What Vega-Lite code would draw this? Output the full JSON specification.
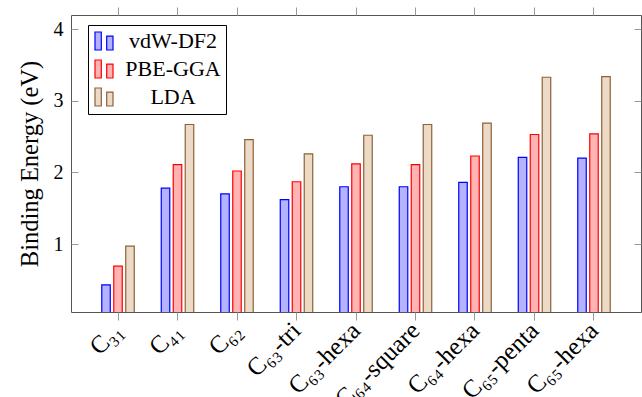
{
  "$schema": "https://vega.github.io/schema/vega-lite/v6.json",
  "autosize": "none",
  "width": 570,
  "height": 297,
  "padding": {"left": 71, "top": 15, "right": 1, "bottom": 85},
  "background": "white",
  "config": {
    "view": {"stroke": "#555", "strokeWidth": 1},
    "axis": {"labelFont": "Liberation Serif", "titleFont": "Liberation Serif", "labelColor": "black", "titleColor": "black", "titleFontWeight": "normal", "grid": false, "domain": false, "tickColor": "#999", "tickWidth": 1},
    "legend": {"labelFont": "Liberation Serif", "titleFont": "Liberation Serif"}
  },
  "data": {"values": [
    {"s": "C₃₁", "m": "vdW-DF2", "e": 0.43}, {"s": "C₃₁", "m": "PBE-GGA", "e": 0.69}, {"s": "C₃₁", "m": "LDA", "e": 0.97},
    {"s": "C₄₁", "m": "vdW-DF2", "e": 1.78}, {"s": "C₄₁", "m": "PBE-GGA", "e": 2.11}, {"s": "C₄₁", "m": "LDA", "e": 2.67},
    {"s": "C₆₂", "m": "vdW-DF2", "e": 1.70}, {"s": "C₆₂", "m": "PBE-GGA", "e": 2.02}, {"s": "C₆₂", "m": "LDA", "e": 2.46},
    {"s": "C₆₃-tri", "m": "vdW-DF2", "e": 1.62}, {"s": "C₆₃-tri", "m": "PBE-GGA", "e": 1.87}, {"s": "C₆₃-tri", "m": "LDA", "e": 2.26},
    {"s": "C₆₃-hexa", "m": "vdW-DF2", "e": 1.80}, {"s": "C₆₃-hexa", "m": "PBE-GGA", "e": 2.12}, {"s": "C₆₃-hexa", "m": "LDA", "e": 2.52},
    {"s": "C₆₄-square", "m": "vdW-DF2", "e": 1.80}, {"s": "C₆₄-square", "m": "PBE-GGA", "e": 2.11}, {"s": "C₆₄-square", "m": "LDA", "e": 2.67},
    {"s": "C₆₄-hexa", "m": "vdW-DF2", "e": 1.86}, {"s": "C₆₄-hexa", "m": "PBE-GGA", "e": 2.23}, {"s": "C₆₄-hexa", "m": "LDA", "e": 2.69},
    {"s": "C₆₅-penta", "m": "vdW-DF2", "e": 2.21}, {"s": "C₆₅-penta", "m": "PBE-GGA", "e": 2.53}, {"s": "C₆₅-penta", "m": "LDA", "e": 3.33},
    {"s": "C₆₅-hexa", "m": "vdW-DF2", "e": 2.20}, {"s": "C₆₅-hexa", "m": "PBE-GGA", "e": 2.54}, {"s": "C₆₅-hexa", "m": "LDA", "e": 3.34}
  ]},
  "resolve": {"axis": {"x": "independent", "y": "independent"}},
  "layer": [
    {
      "mark": {"type": "bar", "strokeWidth": 1.2, "clip": true},
      "encoding": {
        "x": {"field": "s", "type": "nominal", "sort": null,
              "scale": {"paddingInner": 0.454, "paddingOuter": 0.517},
              "axis": {"orient": "bottom", "title": null, "labelAngle": -45, "labelAlign": "right", "labelBaseline": "middle", "labelFontSize": 25, "labelPadding": 6, "tickSize": 8}},
        "xOffset": {"field": "m", "type": "nominal", "sort": ["vdW-DF2", "PBE-GGA", "LDA"],
              "scale": {"domain": ["vdW-DF2", "PBE-GGA", "LDA"], "paddingInner": 0.29, "paddingOuter": 0}},
        "y": {"field": "e", "type": "quantitative",
              "scale": {"domain": [0.05, 4.2], "nice": false, "zero": false},
              "axis": {"orient": "left", "title": "Binding Energy (eV)", "titleFontSize": 24.5, "labelFontSize": 20, "values": [1, 2, 3, 4], "tickSize": -7, "labelPadding": 15, "titlePadding": 11}},
        "fill": {"field": "m", "type": "nominal",
              "scale": {"domain": ["vdW-DF2", "PBE-GGA", "LDA"], "range": ["#b3b3ff", "#ffb3b3", "#ecd9c6"]},
              "legend": {"title": null, "orient": "none", "legendX": 17, "legendY": 10, "symbolType": "M-1,-1H-0.3V1H-1Z M0.3,-0.55H1V1H0.3Z", "symbolSize": 324, "symbolStrokeWidth": 1.2, "labelFontSize": 22, "labelAlign": "center", "labelOffset": 58, "rowPadding": 4, "padding": 5, "strokeColor": "black", "fillColor": "white"}},
        "stroke": {"field": "m", "type": "nominal",
              "scale": {"domain": ["vdW-DF2", "PBE-GGA", "LDA"], "range": ["#0000ff", "#ff0000", "#8c6239"]},
              "legend": {"title": null, "orient": "none", "legendX": 17, "legendY": 10, "symbolType": "M-1,-1H-0.3V1H-1Z M0.3,-0.55H1V1H0.3Z", "symbolSize": 324, "symbolStrokeWidth": 1.2, "labelFontSize": 22, "labelAlign": "center", "labelOffset": 58, "rowPadding": 4, "padding": 5, "strokeColor": "black", "fillColor": "white"}}
      }
    },
    {
      "mark": {"type": "bar", "opacity": 0},
      "encoding": {
        "x": {"field": "s", "type": "nominal", "sort": null,
              "scale": {"paddingInner": 0.454, "paddingOuter": 0.517},
              "axis": {"orient": "top", "title": null, "labels": false, "tickSize": 8}},
        "xOffset": {"field": "m", "type": "nominal", "sort": ["vdW-DF2", "PBE-GGA", "LDA"]},
        "y": {"field": "e", "type": "quantitative",
              "axis": {"orient": "right", "title": null, "labels": false, "values": [1, 2, 3, 4], "tickSize": -7}}
      }
    }
  ]
}
